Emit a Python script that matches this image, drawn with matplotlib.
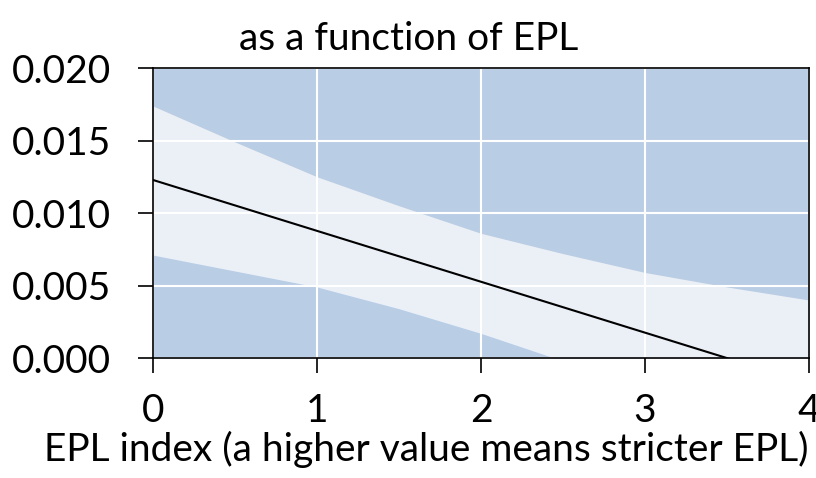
import matplotlib
matplotlib.use('Agg')
import matplotlib.pyplot as plt
import numpy as np

# 数据
x_pts = [0, 0.5, 1, 1.5, 2, 2.5, 3, 3.5, 4]
upper = [0.01738, 0.0149, 0.0125, 0.0105, 0.0086, 0.0072, 0.0059, 0.0049, 0.0040]
lower = [0.0071, 0.0060, 0.0049, 0.0034, 0.0017, -0.0002, -0.0024, -0.0049, -0.0075]
line_x = [0, 4]
line_y = [0.01228, -0.00176]

x_ticks = [0, 1, 2, 3, 4]
y_ticks = [0.000, 0.005, 0.010, 0.015, 0.020]
y_ticklabels = ['0.000', '0.005', '0.010', '0.015', '0.020']

plt.rcParams['font.family'] = ['Lato', 'DejaVu Sans']

fig = plt.figure(figsize=(8.16, 4.78), dpi=100)
ax = fig.add_axes([0.1875, 0.251, 0.8039, 0.6067])
ax.set_facecolor('#b9cde5')

ax.fill_between(x_pts, lower, upper, color='#ebf0f7', linewidth=0, zorder=1)
ax.grid(True, color='white', linewidth=1.5, zorder=2)
ax.set_axisbelow(False)
ax.plot(line_x, line_y, color='black', linewidth=1.5, zorder=3)

ax.set_xlim(0, 4)
ax.set_ylim(0, 0.020)
ax.set_xticks(x_ticks)
ax.set_yticks(y_ticks)
ax.set_yticklabels(y_ticklabels)
ax.tick_params(axis='both', direction='out', length=11, width=1.2, labelsize=28)
ax.tick_params(axis='y', pad=19)
ax.tick_params(axis='x', pad=14)
for s in ax.spines.values():
    s.set_linewidth(1.2)
    s.set_color('black')
    s.set_zorder(4)

ax.set_title('as a function of EPL', fontsize=28, x=0.389, pad=13)
ax.set_xlabel('EPL index (a higher value means stricter EPL)', fontsize=28)
ax.xaxis.set_label_coords(0.416, -0.25)

plt.savefig('out.png', dpi=100)
